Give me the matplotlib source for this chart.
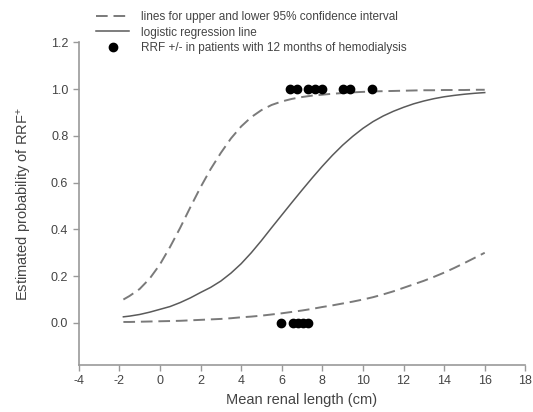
import matplotlib
matplotlib.use("Agg")
import matplotlib.pyplot as plt
from matplotlib.lines import Line2D

plt.rcParams['font.family'] = ['Liberation Sans', 'DejaVu Sans']
plt.rcParams['mathtext.fontset'] = 'custom'
plt.rcParams['mathtext.rm'] = 'Liberation Sans'
plt.rcParams['mathtext.it'] = 'Liberation Sans'

# Curve values
curve_x = [-1.8, -1.5, -1, -0.5, 0, 0.5, 1, 1.5, 2, 2.5, 3, 3.5, 4, 4.5, 5, 5.5,
           6, 6.5, 7, 7.5, 8, 8.5, 9, 9.5, 10, 10.5, 11, 11.5, 12, 12.5, 13, 13.5,
           14, 14.5, 15, 15.5, 16]
upper_y = [0.10, 0.115, 0.145, 0.19, 0.25, 0.325, 0.407, 0.495, 0.58, 0.658, 0.727,
           0.789, 0.84, 0.88, 0.91, 0.932, 0.947, 0.958, 0.966, 0.972, 0.976, 0.98,
           0.983, 0.986, 0.988, 0.99, 0.991, 0.992, 0.993, 0.994, 0.995, 0.995,
           0.996, 0.996, 0.996, 0.997, 0.997]
fit_y = [0.026, 0.029, 0.036, 0.046, 0.058, 0.07, 0.087, 0.107, 0.13, 0.152, 0.179,
         0.213, 0.253, 0.30, 0.352, 0.407, 0.461, 0.515, 0.568, 0.62, 0.67, 0.717,
         0.76, 0.798, 0.832, 0.861, 0.885, 0.905, 0.922, 0.937, 0.949, 0.959, 0.967,
         0.973, 0.978, 0.982, 0.985]
lower_y = [0.004, 0.004, 0.005, 0.006, 0.007, 0.008, 0.009, 0.011, 0.013, 0.015,
           0.017, 0.020, 0.024, 0.027, 0.031, 0.036, 0.041, 0.047, 0.053, 0.06,
           0.068, 0.075, 0.083, 0.091, 0.10, 0.11, 0.122, 0.135, 0.15, 0.165, 0.18,
           0.197, 0.215, 0.235, 0.256, 0.278, 0.30]

# Patients: RRF+ (1) and RRF- (0)
pos_x = [6.41, 6.74, 7.31, 7.64, 7.97, 9.03, 9.36, 10.43]
pos_y = [1, 1, 1, 1, 1, 1, 1, 1]
neg_x = [5.95, 6.55, 6.8, 7.05, 7.3]
neg_y = [0, 0, 0, 0, 0]

x_ticks = [-4, -2, 0, 2, 4, 6, 8, 10, 12, 14, 16, 18]
y_ticks = [0.0, 0.2, 0.4, 0.6, 0.8, 1.0, 1.2]

fig = plt.figure(figsize=(5.33, 4.12), dpi=100)
ax = fig.add_axes([0.1477, 0.1141, 0.8379, 0.7832])

dash_col = '#7a7a7a'
line_col = '#5a5a5a'
ax.plot(curve_x, upper_y, color=dash_col, lw=1.4, dashes=(6, 3))
ax.plot(curve_x, lower_y, color=dash_col, lw=1.4, dashes=(6, 3))
ax.plot(curve_x, fit_y, color=line_col, lw=1.1)
ax.plot(pos_x, pos_y, 'o', color='black', ms=6, zorder=5)
ax.plot(neg_x, neg_y, 'o', color='black', ms=6, zorder=5)

ax.set_xlim(-4, 18)
ax.set_ylim(-0.18, 1.2)
ax.set_xticks(x_ticks)
ax.set_xticklabels([str(t) for t in x_ticks])
ax.set_yticks(y_ticks)
ax.set_yticklabels([f"{t:.1f}" for t in y_ticks])

for s in ['top', 'right']:
    ax.spines[s].set_visible(False)
for s in ['left', 'bottom']:
    ax.spines[s].set_color('#999999')
    ax.spines[s].set_linewidth(1.2)
ax.tick_params(direction='out', length=4, width=1, color='#999999',
               labelcolor='#444444', labelsize=9)

ax.set_xlabel('Mean renal length (cm)', fontsize=10.5, color='#444444', labelpad=4)
ax.set_ylabel('Estimated probability of RRF$^{+}$', fontsize=10.5, color='#444444',
              labelpad=12)

handles = [
    Line2D([], [], color=dash_col, lw=1.4, dashes=(6, 3)),
    Line2D([], [], color=line_col, lw=1.1),
    Line2D([], [], ls='none', marker='o', color='black', ms=6),
]
labels = ['lines for upper and lower 95% confidence interval',
          'logistic regression line',
          'RRF +/- in patients with 12 months of hemodialysis']
fig.legend(handles, labels, loc='upper left', bbox_to_anchor=(96 / 533, 1 - 11 / 412),
           frameon=False, fontsize=8.5, handlelength=2.8, handletextpad=1.0,
           labelspacing=0.3, borderpad=0, borderaxespad=0, labelcolor='#444444')

fig.savefig('out.png', dpi=100)
